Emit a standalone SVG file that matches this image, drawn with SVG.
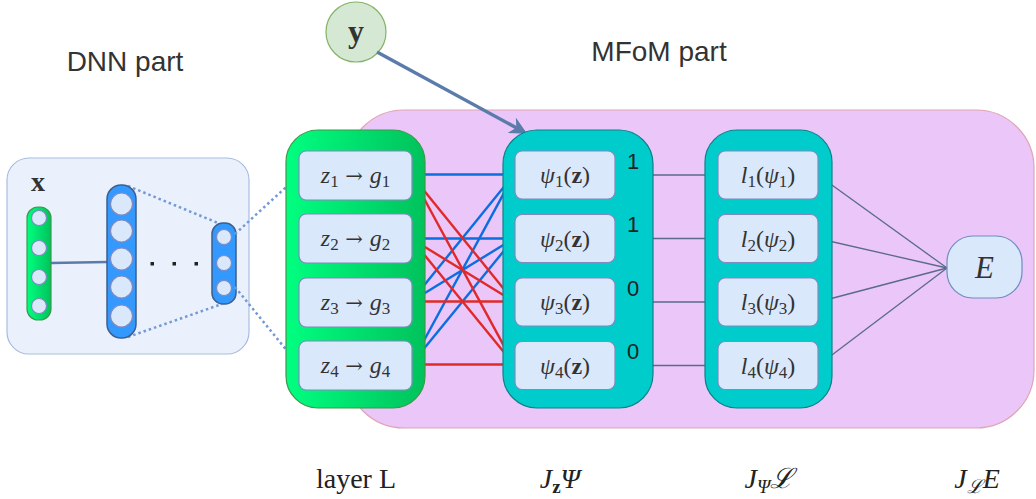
<svg xmlns="http://www.w3.org/2000/svg" width="1036" height="499" viewBox="0 0 1036 499">
  <defs>
    <linearGradient id="greenGrad" x1="0" y1="0" x2="1" y2="0">
      <stop offset="0" stop-color="#00ff80"/>
      <stop offset="1" stop-color="#00c25c"/>
    </linearGradient>
    <marker id="arrowHead" viewBox="0 0 10 10" refX="8" refY="5" markerWidth="5" markerHeight="5" orient="auto" markerUnits="strokeWidth">
      <path d="M0,0 L10,5 L0,10 L3,5 Z" fill="#5b7bab"/>
    </marker>
    <style>
      .title { font-family: "Liberation Sans", Arial, sans-serif; font-size: 28px; fill: #333; text-anchor: middle; }
      .num { font-family: "Liberation Sans", Arial, sans-serif; font-size: 22px; fill: #222; text-anchor: middle; }
      .math { font-family: "Liberation Serif", "DejaVu Serif", serif; font-size: 24px; fill: #333; text-anchor: middle; }
      .it { font-style: italic; }
      .bf { font-weight: bold; }
      .sub { font-size: 17px; }
      .arr { font-family: "DejaVu Serif", serif; font-size: 21px; }
      .cap { font-family: "Liberation Serif", "DejaVu Serif", serif; font-size: 28px; fill: #222; text-anchor: middle; }
      .cell { fill: #dae8fc; stroke: #7f8ac0; stroke-width: 1.2; }
      .neuron { fill: #dae8fc; stroke: #7f8ac0; stroke-width: 1.2; }
      .bluecol { fill: #3399ff; stroke: #3d5f8f; stroke-width: 1.5; }
      .teal { fill: #00cccc; stroke: #0e8088; stroke-width: 1.2; }
      .link { stroke: #5a6a8a; stroke-width: 1.3; fill: none; }
      .dotted { stroke: #7199d6; stroke-width: 2.5; stroke-dasharray: 2.5 3; fill: none; }
      .pos { stroke: #0a6ee0; stroke-width: 2.4; }
      .neg { stroke: #e02a2a; stroke-width: 2.4; }
    </style>
  </defs>

  <!-- headings -->
  <text class="title" x="125" y="71">DNN part</text>
  <text class="title" x="659" y="61">MFoM part</text>

  <!-- MFoM background panel -->
  <rect id="mfom-panel" x="346" y="110" width="688" height="318" rx="58" fill="#ebc6f8" stroke="#e0a4b4" stroke-width="1.2"/>

  <!-- DNN part -->
  <g id="dnn">
    <rect x="7" y="158" width="242" height="196" rx="22" fill="#eaf1fc" stroke="#a8bde0" stroke-width="1.2"/>
    <text class="math bf" x="38" y="191" style="font-size:28px">x</text>
    <line x1="51" y1="263" x2="107" y2="262" stroke="#5b7bab" stroke-width="2.5"/>
    <line class="dotted" x1="128" y1="186" x2="218" y2="223"/>
    <line class="dotted" x1="128" y1="337" x2="222" y2="304"/>
    <g id="input-layer">
      <rect x="27" y="207" width="24" height="113" rx="11" fill="url(#greenGrad)" stroke="#3a9a4a" stroke-width="1.2"/>
      <circle class="neuron" cx="39" cy="218" r="7.5"/>
      <circle class="neuron" cx="39" cy="248" r="7.5"/>
      <circle class="neuron" cx="39" cy="277" r="7.5"/>
      <circle class="neuron" cx="39" cy="306" r="7.5"/>
    </g>
    <g id="hidden-layer">
      <rect class="bluecol" x="107" y="185" width="29" height="153" rx="14"/>
      <circle class="neuron" cx="121.5" cy="204" r="11"/>
      <circle class="neuron" cx="121.5" cy="231" r="11"/>
      <circle class="neuron" cx="121.5" cy="259" r="11"/>
      <circle class="neuron" cx="121.5" cy="287" r="11"/>
      <circle class="neuron" cx="121.5" cy="316" r="11"/>
    </g>
    <g id="ellipsis" fill="#222">
      <rect x="150.5" y="262" width="3.5" height="3.5"/>
      <rect x="172.5" y="262" width="3.5" height="3.5"/>
      <rect x="194.5" y="262" width="3.5" height="3.5"/>
    </g>
    <g id="last-layer">
      <rect class="bluecol" x="212" y="223" width="24" height="81" rx="11"/>
      <circle class="neuron" cx="224" cy="237" r="7.5"/>
      <circle class="neuron" cx="224" cy="263" r="7.5"/>
      <circle class="neuron" cx="224" cy="288" r="7.5"/>
    </g>
  </g>

  <!-- label vector y -->
  <g id="node-y">
    <circle cx="356" cy="32" r="30" fill="#d5e8d4" stroke="#82b366" stroke-width="1.2"/>
    <text class="math bf" x="356" y="42" style="font-size:32px">y</text>
  </g>

  <!-- connectors -->
  <g id="connectors">
    <line class="dotted" x1="235" y1="234" x2="297" y2="177"/>
    <line class="dotted" x1="235" y1="287" x2="297" y2="363"/>
    <line x1="377" y1="52" x2="524" y2="132" stroke="#5b7bab" stroke-width="3.5" marker-end="url(#arrowHead)"/>
    <!-- layer L to psi: positive targets -->
    <line class="pos" x1="411" y1="174.5" x2="514" y2="174.5"/>
    <line class="pos" x1="411" y1="238.5" x2="514" y2="238.5"/>
    <line class="pos" x1="411" y1="301.5" x2="514" y2="174.5"/>
    <line class="pos" x1="411" y1="301.5" x2="514" y2="238.5"/>
    <line class="pos" x1="411" y1="364.5" x2="514" y2="174.5"/>
    <line class="pos" x1="411" y1="364.5" x2="514" y2="238.5"/>
    <!-- layer L to psi: negative targets -->
    <line class="neg" x1="411" y1="174.5" x2="514" y2="301.5"/>
    <line class="neg" x1="411" y1="174.5" x2="514" y2="364.5"/>
    <line class="neg" x1="411" y1="238.5" x2="514" y2="301.5"/>
    <line class="neg" x1="411" y1="238.5" x2="514" y2="364.5"/>
    <line class="neg" x1="411" y1="301.5" x2="514" y2="301.5"/>
    <line class="neg" x1="411" y1="364.5" x2="514" y2="364.5"/>
    <!-- psi to l -->
    <line class="link" x1="615" y1="175" x2="718" y2="175"/>
    <line class="link" x1="615" y1="238.5" x2="718" y2="238.5"/>
    <line class="link" x1="615" y1="302" x2="718" y2="302"/>
    <line class="link" x1="615" y1="365.5" x2="718" y2="365.5"/>
    <!-- l to E -->
    <line class="link" x1="818" y1="175" x2="947" y2="268"/>
    <line class="link" x1="818" y1="238.5" x2="947" y2="268"/>
    <line class="link" x1="818" y1="302" x2="947" y2="268"/>
    <line class="link" x1="818" y1="365.5" x2="947" y2="268"/>
  </g>

  <!-- layer L -->
  <g id="layer-L">
    <rect x="286" y="130" width="139" height="278" rx="32" fill="url(#greenGrad)" stroke="#3a9a4a" stroke-width="1.2"/>
    <g id="z1"><rect class="cell" x="299" y="151" width="113" height="49" rx="7"/>
      <text class="math" x="355.5" y="183"><tspan class="it">z</tspan><tspan class="sub" dy="4">1</tspan><tspan class="arr" dy="-4"> → </tspan><tspan class="it">g</tspan><tspan class="sub" dy="4">1</tspan></text></g>
    <g id="z2"><rect class="cell" x="299" y="214" width="113" height="49" rx="7"/>
      <text class="math" x="355.5" y="246"><tspan class="it">z</tspan><tspan class="sub" dy="4">2</tspan><tspan class="arr" dy="-4"> → </tspan><tspan class="it">g</tspan><tspan class="sub" dy="4">2</tspan></text></g>
    <g id="z3"><rect class="cell" x="299" y="278" width="113" height="49" rx="7"/>
      <text class="math" x="355.5" y="310"><tspan class="it">z</tspan><tspan class="sub" dy="4">3</tspan><tspan class="arr" dy="-4"> → </tspan><tspan class="it">g</tspan><tspan class="sub" dy="4">3</tspan></text></g>
    <g id="z4"><rect class="cell" x="299" y="341" width="113" height="49" rx="7"/>
      <text class="math" x="355.5" y="373"><tspan class="it">z</tspan><tspan class="sub" dy="4">4</tspan><tspan class="arr" dy="-4"> → </tspan><tspan class="it">g</tspan><tspan class="sub" dy="4">4</tspan></text></g>
  </g>

  <!-- psi column -->
  <g id="psi-layer">
    <rect class="teal" x="503" y="130" width="150" height="278" rx="34"/>
    <g id="psi1"><rect class="cell" x="515" y="151" width="100" height="48" rx="7"/>
      <text class="math" x="565" y="183"><tspan class="it">ψ</tspan><tspan class="sub" dy="4">1</tspan><tspan dy="-4">(</tspan><tspan class="bf">z</tspan>)</text></g>
    <g id="psi2"><rect class="cell" x="515" y="214.5" width="100" height="48" rx="7"/>
      <text class="math" x="565" y="246.5"><tspan class="it">ψ</tspan><tspan class="sub" dy="4">2</tspan><tspan dy="-4">(</tspan><tspan class="bf">z</tspan>)</text></g>
    <g id="psi3"><rect class="cell" x="515" y="278" width="100" height="48" rx="7"/>
      <text class="math" x="565" y="310"><tspan class="it">ψ</tspan><tspan class="sub" dy="4">3</tspan><tspan dy="-4">(</tspan><tspan class="bf">z</tspan>)</text></g>
    <g id="psi4"><rect class="cell" x="515" y="341.5" width="100" height="48" rx="7"/>
      <text class="math" x="565" y="373.5"><tspan class="it">ψ</tspan><tspan class="sub" dy="4">4</tspan><tspan dy="-4">(</tspan><tspan class="bf">z</tspan>)</text></g>
    <text class="num" x="633" y="169">1</text>
    <text class="num" x="633" y="232">1</text>
    <text class="num" x="633" y="296">0</text>
    <text class="num" x="633" y="359">0</text>
  </g>

  <!-- loss column -->
  <g id="loss-layer">
    <rect class="teal" x="705" y="130" width="127" height="278" rx="32"/>
    <g id="l1"><rect class="cell" x="718" y="151" width="100" height="48" rx="7"/>
      <text class="math" x="768" y="183"><tspan class="it">l</tspan><tspan class="sub" dy="4">1</tspan><tspan dy="-4">(</tspan><tspan class="it">ψ</tspan><tspan class="sub" dy="4">1</tspan><tspan dy="-4">)</tspan></text></g>
    <g id="l2"><rect class="cell" x="718" y="214.5" width="100" height="48" rx="7"/>
      <text class="math" x="768" y="246.5"><tspan class="it">l</tspan><tspan class="sub" dy="4">2</tspan><tspan dy="-4">(</tspan><tspan class="it">ψ</tspan><tspan class="sub" dy="4">2</tspan><tspan dy="-4">)</tspan></text></g>
    <g id="l3"><rect class="cell" x="718" y="278" width="100" height="48" rx="7"/>
      <text class="math" x="768" y="310"><tspan class="it">l</tspan><tspan class="sub" dy="4">3</tspan><tspan dy="-4">(</tspan><tspan class="it">ψ</tspan><tspan class="sub" dy="4">3</tspan><tspan dy="-4">)</tspan></text></g>
    <g id="l4"><rect class="cell" x="718" y="341.5" width="100" height="48" rx="7"/>
      <text class="math" x="768" y="373.5"><tspan class="it">l</tspan><tspan class="sub" dy="4">4</tspan><tspan dy="-4">(</tspan><tspan class="it">ψ</tspan><tspan class="sub" dy="4">4</tspan><tspan dy="-4">)</tspan></text></g>
  </g>

  <!-- overall objective -->
  <g id="node-E">
    <rect x="947" y="236" width="75" height="62" rx="26" fill="#dae8fc" stroke="#6c8ebf" stroke-width="1.2"/>
    <text class="math it" x="984.5" y="278" style="font-size:31px">E</text>
  </g>

  <!-- column captions -->
  <g id="captions">
    <text class="cap" x="356" y="488">layer L</text>
    <text class="cap" x="560" y="488"><tspan class="it">J</tspan><tspan class="bf" style="font-size:19px" dy="5">z</tspan><tspan class="it" dy="-5">Ψ</tspan></text>
    <text class="cap" x="769" y="488"><tspan class="it">J</tspan><tspan class="it" style="font-size:19px" dy="5">Ψ</tspan><tspan class="it" dy="-5">ℒ</tspan></text>
    <text class="cap" x="977" y="488"><tspan class="it">J</tspan><tspan class="it" style="font-size:19px" dy="5">ℒ</tspan><tspan class="it" dy="-5">E</tspan></text>
  </g>
</svg>
